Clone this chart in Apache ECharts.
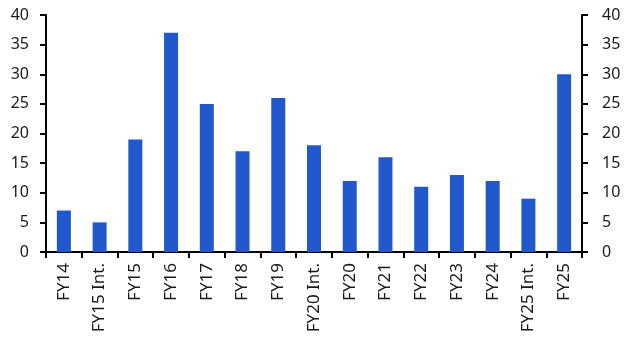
<!DOCTYPE html>
<html>
<head>
<meta charset="utf-8">
<script src="https://cdn.jsdelivr.net/npm/echarts@6/dist/echarts.min.js"></script>
<style>html,body{margin:0;padding:0;background:#fff;}#c{width:631px;height:355px;}</style>
</head>
<body>
<div id="c"></div>
<script>
var categories = ['FY14','FY15 Int.','FY15','FY16','FY17','FY18','FY19','FY20 Int.','FY20','FY21','FY22','FY23','FY24','FY25 Int.','FY25'];
var values = [7,5,19,37,25,17,26,18,12,16,11,13,12,9,30];
var yTicks = [0,5,10,15,20,25,30,35,40];

var chart = echarts.init(document.getElementById('c'));
var font = 'Noto Sans';
function yAxis(pos, margin){
  return {
    type:'value', position:pos, min:yTicks[0], max:yTicks[yTicks.length-1], interval:yTicks[1]-yTicks[0],
    axisLine:{show:true, lineStyle:{color:'#000', width:2}},
    axisTick:{show:true, length:6, lineStyle:{color:'#000', width:2}},
    axisLabel:{color:'#1a1a1a', fontSize:16, fontFamily:font, margin:margin},
    splitLine:{show:false}
  };
}
chart.setOption({
  animation:false,
  grid:{left:46, right:49, top:15, bottom:103, containLabel:false},
  xAxis:{
    type:'category', data:categories,
    axisLine:{lineStyle:{color:'#000', width:2}},
    axisTick:{show:true, length:6, lineStyle:{color:'#000', width:2}},
    axisLabel:{rotate:90, color:'#1a1a1a', fontSize:17, fontFamily:font, margin:11, interval:0}
  },
  yAxis:[yAxis('left', 17), yAxis('right', 20)],
  series:[{type:'bar', data:values, barWidth:14, itemStyle:{color:'#2159CC'}}]
});
</script>
</body>
</html>
